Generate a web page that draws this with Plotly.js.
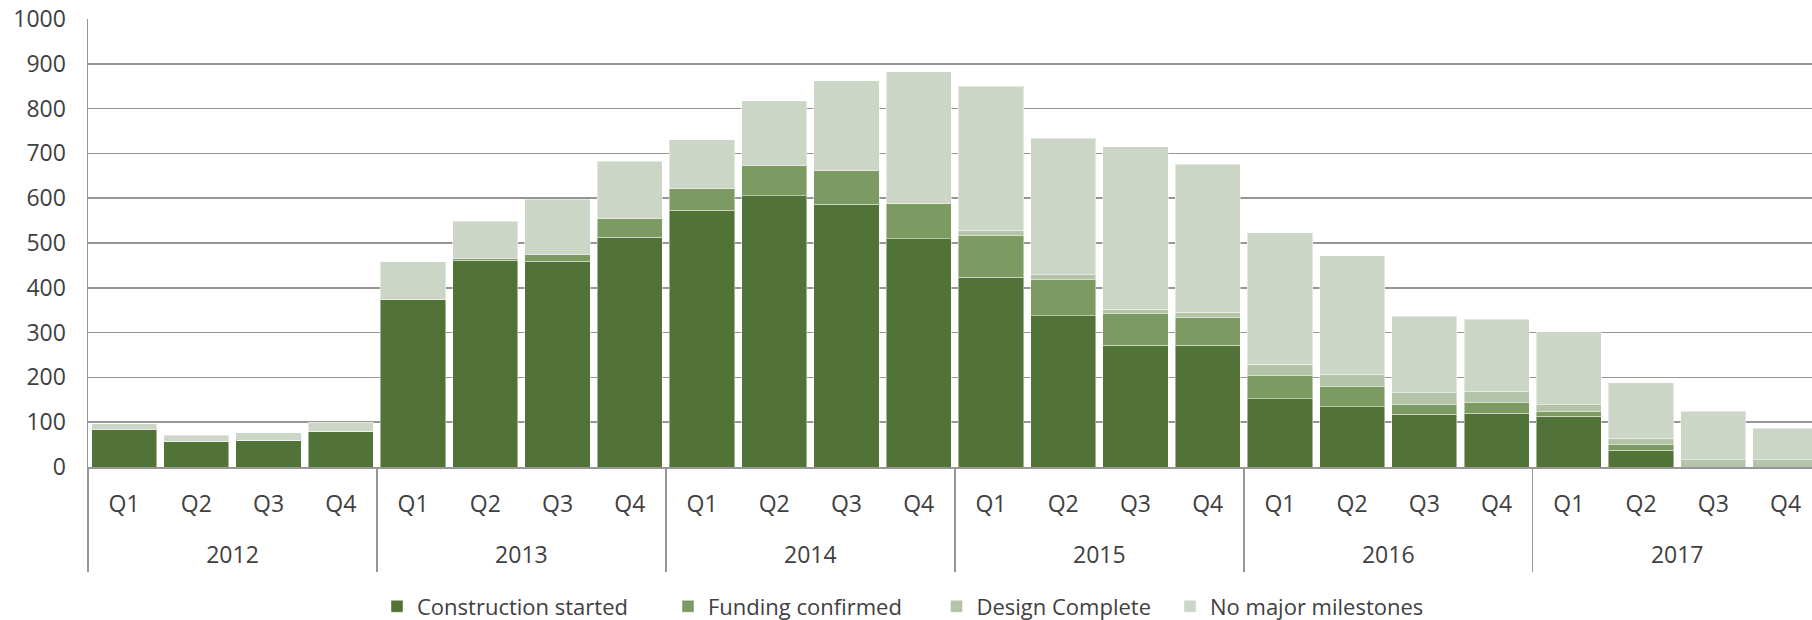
<!DOCTYPE html>
<html>
<head>
<meta charset="utf-8">
<script src="https://cdn.plot.ly/plotly-3.0.1.min.js"></script>
<style>
  html, body { margin: 0; padding: 0; background: #ffffff; }
  #chart { width: 1812px; height: 620px; }
</style>
</head>
<body>
<div id="chart"></div>
<script>
// ---- Data ----
var years = ["2012","2012","2012","2012","2013","2013","2013","2013","2014","2014","2014","2014",
             "2015","2015","2015","2015","2016","2016","2016","2016","2017","2017","2017","2017"];
var quarters = ["Q1","Q2","Q3","Q4","Q1","Q2","Q3","Q4","Q1","Q2","Q3","Q4",
                "Q1","Q2","Q3","Q4","Q1","Q2","Q3","Q4","Q1","Q2","Q3","Q4"];

var constructionStarted = [83, 57, 60, 80, 373, 462, 459, 513, 573, 606, 586, 510,
                           424, 338, 272, 272, 152, 135, 118, 120, 113, 37, 0, 0];
var fundingConfirmed    = [0, 0, 0, 0, 2, 3, 15, 41, 48, 67, 75, 79,
                           93, 80, 70, 62, 52, 45, 22, 23, 11, 13, 0, 0];
var designComplete      = [0, 0, 0, 0, 0, 0, 0, 0, 0, 0, 0, 0,
                           11, 11, 10, 11, 25, 27, 26, 26, 15, 14, 16, 16];
var noMajorMilestones   = [14, 14, 17, 20, 83, 84, 124, 128, 110, 145, 201, 293,
                           322, 305, 363, 331, 294, 265, 170, 161, 163, 124, 108, 71];

var yTicks = [0, 100, 200, 300, 400, 500, 600, 700, 800, 900, 1000];

var seriesNames  = ["Construction started", "Funding confirmed", "Design Complete", "No major milestones"];
var seriesValues = [constructionStarted, fundingConfirmed, designComplete, noMajorMilestones];
var seriesColors = ["#527337", "#7b9b63", "#b4c4a9", "#cbd6c7"];
var legendIds    = ["legend", "legend2", "legend3", "legend4"];

// ---- Derived helpers (category keys, year group centres and boundaries) ----
var catKeys = years.map(function (y, i) { return y + " " + quarters[i]; });
var yearList = [], yearCenters = [], yearBounds = [];
years.forEach(function (y, i) {
  var k = yearList.indexOf(y);
  if (k === -1) {
    yearList.push(y);
    yearCenters.push([i]);
    yearBounds.push(i - 0.5);
  } else {
    yearCenters[k].push(i);
  }
});
yearCenters = yearCenters.map(function (idx) {
  return idx.reduce(function (a, b) { return a + b; }, 0) / idx.length;
});
yearBounds.push(years.length - 0.5);

var FONT = "Open Sans, Noto Sans, sans-serif";
var TEXT = "#404040";
var GRID = "#969696";
var XRANGE = [-0.5, 23.366];

var traces = seriesNames.map(function (name, i) {
  return {
    type: "bar",
    name: name,
    x: catKeys,
    y: seriesValues[i],
    marker: { color: seriesColors[i], line: { color: "rgba(255,255,255,0.45)", width: 1 } },
    legend: legendIds[i],
    hoverinfo: "skip"
  };
});

// invisible helper so the year-level axis (x2) is active and drawn
traces.push({
  type: "scatter",
  mode: "none",
  x: yearCenters,
  y: yearCenters.map(function () { return null; }),
  xaxis: "x2",
  yaxis: "y",
  showlegend: false,
  hoverinfo: "skip"
});

function legendAt(px) {
  return {
    orientation: "h",
    xref: "container", yref: "container",
    x: px / 1812, xanchor: "left",
    y: 1 - 606.5 / 620, yanchor: "middle",
    bgcolor: "rgba(0,0,0,0)",
    borderwidth: 0,
    font: { family: FONT, size: 22, color: TEXT }
  };
}

var layout = {
  width: 1812,
  height: 620,
  margin: { l: 88, r: 0, t: 19, b: 153, pad: 0 },
  paper_bgcolor: "#ffffff",
  plot_bgcolor: "#ffffff",
  barmode: "stack",
  bargap: 0.097,
  showlegend: true,
  font: { family: FONT, size: 23, color: TEXT },
  xaxis: {
    type: "category",
    range: XRANGE,
    tickmode: "array",
    tickvals: catKeys,
    ticktext: quarters,
    showline: true,
    linecolor: GRID,
    linewidth: 1.5,
    showgrid: false,
    ticks: "",
    ticklabelstandoff: 16,
    tickfont: { family: FONT, size: 23, color: TEXT },
    fixedrange: true
  },
  xaxis2: {
    type: "linear",
    overlaying: "x",
    anchor: "y",
    side: "bottom",
    range: XRANGE,
    tickmode: "array",
    tickvals: yearCenters,
    ticktext: yearList,
    showline: false,
    showgrid: false,
    zeroline: false,
    ticks: "",
    ticklabelstandoff: 72,
    tickfont: { family: FONT, size: 23, color: TEXT },
    minor: {
      tickmode: "array",
      tickvals: yearBounds,
      ticks: "outside",
      ticklen: 104,
      tickwidth: 1.5,
      tickcolor: GRID,
      showgrid: false
    },
    fixedrange: true
  },
  yaxis: {
    range: [0, 1000],
    tickvals: yTicks,
    ticktext: yTicks.map(String),
    showgrid: true,
    gridcolor: GRID,
    gridwidth: 1.5,
    zeroline: false,
    showline: true,
    linecolor: GRID,
    linewidth: 1.5,
    ticks: "",
    ticklabelstandoff: 16,
    tickfont: { family: FONT, size: 23, color: TEXT },
    fixedrange: true
  },
  legend: legendAt(377),
  legend2: legendAt(668),
  legend3: legendAt(936.5),
  legend4: legendAt(1170)
};

Plotly.newPlot("chart", traces, layout, { displayModeBar: false, staticPlot: true });
</script>
</body>
</html>
